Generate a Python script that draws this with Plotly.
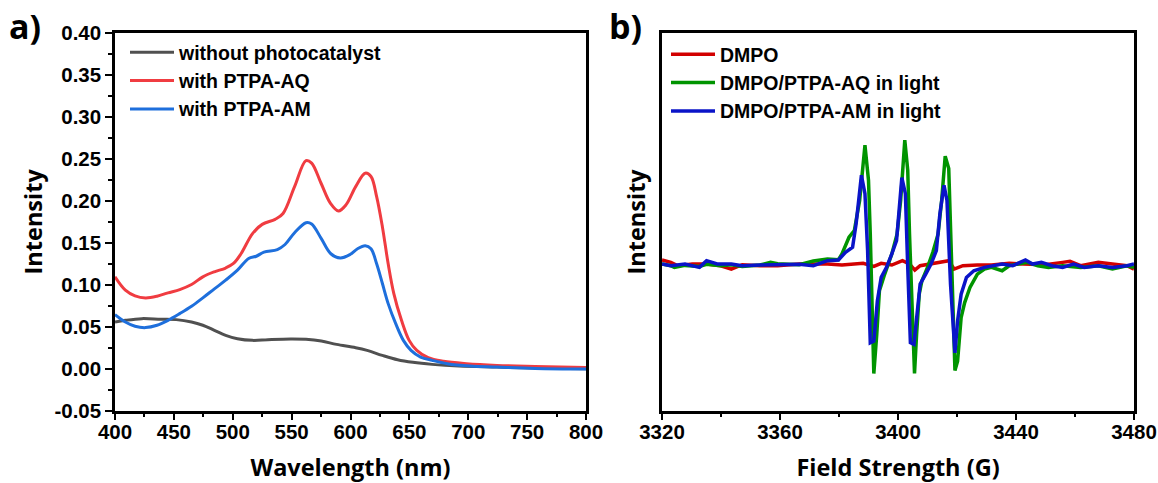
import plotly.graph_objects as go

# ---------------- Panel a) : UV-vis ----------------
wl_red = [400, 408.8, 417, 426, 435.7, 445, 455, 465, 474.6, 484.4, 494, 500.6, 507, 516.8, 525, 536,
          542.7, 552.5, 562.2, 567, 575, 583, 589.8, 596.3, 604.4, 612.5, 617.4, 622.2, 627.1, 632,
          636.8, 643.3, 649.8, 656.3, 666, 679, 698.5, 724.4, 756.9, 800]
int_red = [0.1095, 0.0936, 0.0868, 0.0844, 0.0864, 0.0904, 0.0943, 0.1003, 0.1095, 0.1155, 0.120, 0.1254,
           0.137, 0.161, 0.172, 0.178, 0.185, 0.217, 0.248, 0.245, 0.221, 0.197, 0.188, 0.1955, 0.217,
           0.233, 0.229, 0.205, 0.169, 0.125, 0.0896, 0.0577, 0.0338, 0.0219, 0.0131, 0.0088, 0.006,
           0.004, 0.0028, 0.0016]

wl_blue = [400, 408.8, 417, 426, 435.7, 445, 455, 465, 474.6, 484.4, 494, 504, 513.5, 520, 526.5, 537.9,
           544.4, 552.5, 562.2, 567, 575.2, 583.3, 591.4, 599.5, 606, 612.5, 617.4, 622.2, 627.1, 632,
           638.4, 644.9, 651.4, 659.5, 669.3, 682.2, 701.7, 724.4, 756.9, 800]
int_blue = [0.0645, 0.0557, 0.0506, 0.049, 0.0518, 0.0577, 0.0657, 0.0744, 0.0844, 0.0951, 0.1055, 0.1174,
            0.1314, 0.134, 0.139, 0.142, 0.148, 0.162, 0.174, 0.1725, 0.155, 0.137, 0.132, 0.136, 0.143,
            0.1465, 0.143, 0.125, 0.1015, 0.0776, 0.0537, 0.0338, 0.0219, 0.0139, 0.010, 0.006, 0.0032,
            0.002, 0.0004, -0.0004]

wl_gray = [400, 408.8, 422.7, 438.9, 452, 465, 474.6, 484.4, 494, 504, 516.8, 529.8, 549.2, 562.2, 575.2,
           588.2, 604.4, 614.1, 627, 640, 653, 669.3, 692, 724.4, 756.9, 800]
int_gray = [0.0557, 0.0577, 0.0597, 0.0589, 0.0585, 0.0557, 0.0518, 0.0458, 0.0398, 0.0358, 0.0338, 0.0346,
            0.0354, 0.035, 0.033, 0.029, 0.0251, 0.0219, 0.0159, 0.0107, 0.0076, 0.0052, 0.0032, 0.002,
            0.0008, 0.0]

ytick_vals = [-0.05, 0.0, 0.05, 0.10, 0.15, 0.20, 0.25, 0.30, 0.35, 0.40]
ytick_text = ["-0.05", "0.00", "0.05", "0.10", "0.15", "0.20", "0.25", "0.30", "0.35", "0.40"]
xtick_a = [400, 450, 500, 550, 600, 650, 700, 750, 800]

# ---------------- Panel b) : EPR ----------------
field_green = [3320, 3323.0, 3324.2, 3327.8, 3332.7, 3335.1, 3339.9, 3343.5, 3347.2, 3353.2, 3356.8, 3359.2,
               3366.5, 3371.3, 3376.1, 3379.8, 3381.0, 3383.4, 3385.2, 3387.0, 3388.8, 3390.0, 3390.6,
               3391.2, 3391.8, 3392.8, 3393.7, 3395.5, 3396.7, 3397.9, 3399.7, 3400.9, 3402.3, 3403.3,
               3403.9, 3404.8, 3405.6, 3406.3, 3407.2, 3408.1, 3410.0, 3411.8, 3413.6, 3414.8, 3416.0,
               3417.2, 3417.8, 3418.4, 3419.3, 3420.2, 3421.4, 3422.6, 3424.4, 3426.9, 3429.3, 3431.7,
               3435.3, 3437.7, 3441.4, 3443.8, 3447.4, 3451.0, 3455.8, 3461.9, 3467.9, 3472.7, 3477.6, 3480]
sig_green = [-1, -6, -11, -5, -8, -2, -6, -3, -8, -4, 4, 0, -3, 8, 14, 12, 29, 79, 99, 189, 354, 249, 89,
             -111, -328, -211, -81, -31, -1, 29, 89, 189, 369, 279, 89, -111, -328, -211, -91, -51, -11,
             34, 89, 189, 321, 284, 89, -111, -319, -291, -161, -116, -71, -31, -16, -11, -21, -6, -1, 4,
             -6, -11, -6, -11, -6, -16, -6, -11]

field_blue = [3320, 3323.0, 3327.8, 3332.7, 3335.1, 3338.7, 3343.5, 3347.2, 3353.2, 3359.2, 3366.5, 3371.3,
              3376.1, 3379.8, 3382.2, 3384.6, 3385.8, 3387.6, 3388.8, 3389.7, 3390.6, 3391.8, 3393.0,
              3394.3, 3396.1, 3397.9, 3399.5, 3401.3, 3402.5, 3403.3, 3404.2, 3405.4, 3406.3, 3407.5,
              3409.4, 3411.2, 3413.0, 3414.2, 3415.6, 3416.6, 3417.8, 3419.3, 3420.2, 3421.4, 3423.2,
              3425.7, 3429.3, 3431.7, 3435.3, 3438.9, 3443.2, 3445.6, 3448.6, 3452.2, 3455.8, 3459.5,
              3463.1, 3467.9, 3472.7, 3477.6, 3480]
sig_blue = [-1, -6, -1, -11, 9, -1, -1, -6, -4, -4, -2, -6, 9, 11, 34, 49, 119, 264, 209, 39, -236, -231,
            -111, -41, -11, 29, 69, 257, 209, -11, -236, -241, -171, -61, -31, -1, 39, 149, 234, 189, -61,
            -266, -171, -91, -41, -21, -11, -6, -1, -6, 11, -1, 4, -6, -11, -1, -11, -6, -11, -6, -1]

field_red = [3320, 3323.0, 3325.4, 3330.3, 3335.1, 3339.9, 3343.5, 3347.2, 3353.2, 3359.2, 3366.5, 3371.3,
             3376.1, 3381.0, 3388.2, 3391.8, 3394.3, 3397.9, 3401.5, 3403.9, 3405.7, 3407.5, 3411.2,
             3414.8, 3417.2, 3419.0, 3422.0, 3426.9, 3431.7, 3437.7, 3443.8, 3449.8, 3455.8, 3458.3,
             3461.9, 3467.9, 3472.7, 3477.6, 3480]
sig_red = [11, 4, -6, -1, -1, -6, -16, -3, -6, -6, -1, -1, -1, -4, 1, -8, 1, -4, 9, -1, -19, -6, -1, 4, 9,
           -16, -6, -4, -4, 1, -1, -3, 4, 7, -6, 4, -1, -6, -16]

xtick_b = [3320, 3360, 3400, 3440, 3480]

TICKFONT = dict(family="Liberation Sans, Arial, sans-serif", size=20.5, color="black", weight="bold")
TITLEFONT = dict(family="Open Sans, sans-serif", size=23.5, color="black", weight="bold")
LEGFONT = dict(family="Liberation Sans, Arial, sans-serif", size=19.5, color="black", weight="bold")

fig = go.Figure()

fig.add_trace(go.Scatter(x=wl_gray, y=int_gray, mode="lines", name="without photocatalyst",
                         line=dict(color="#505050", width=3, shape="spline"), xaxis="x", yaxis="y",
                         legend="legend"))
fig.add_trace(go.Scatter(x=wl_red, y=int_red, mode="lines", name="with PTPA-AQ",
                         line=dict(color="#f03c41", width=3, shape="spline"), xaxis="x", yaxis="y",
                         legend="legend"))
fig.add_trace(go.Scatter(x=wl_blue, y=int_blue, mode="lines", name="with PTPA-AM",
                         line=dict(color="#1e6fdc", width=3, shape="spline"), xaxis="x", yaxis="y",
                         legend="legend"))

fig.add_trace(go.Scatter(x=field_red, y=sig_red, mode="lines", name="DMPO",
                         line=dict(color="#d20000", width=3.5), xaxis="x2", yaxis="y2", legend="legend2"))
fig.add_trace(go.Scatter(x=field_green, y=sig_green, mode="lines", name="DMPO/PTPA-AQ in light",
                         line=dict(color="#009400", width=3.5), xaxis="x2", yaxis="y2", legend="legend2"))
fig.add_trace(go.Scatter(x=field_blue, y=sig_blue, mode="lines", name="DMPO/PTPA-AM in light",
                         line=dict(color="#0a14c8", width=3.5), xaxis="x2", yaxis="y2", legend="legend2"))

W, H = 1158, 483
ydom = [1 - 410.7 / H, 1 - 33 / H]

common_axis = dict(showline=True, linecolor="black", linewidth=2.5, mirror=True, showgrid=False,
                   zeroline=False, ticks="outside", ticklen=7, tickwidth=2, tickcolor="black",
                   tickfont=TICKFONT, automargin=False)
MINOR = dict(ticks="outside", ticklen=4, tickwidth=2, tickcolor="black")

fig.update_layout(
    width=W, height=H, margin=dict(l=0, r=0, t=0, b=0),
    paper_bgcolor="white", plot_bgcolor="white",
    xaxis=dict(domain=[115 / W, 586 / W], range=[400, 800], tickvals=xtick_a,
               minor=dict(dtick=25, **MINOR), ticklabelstandoff=-6,
               title=dict(text="Wavelength (nm)", font=TITLEFONT, standoff=22),
               anchor="y", **common_axis),
    yaxis=dict(domain=ydom, range=[-0.05, 0.40], tickvals=ytick_vals, ticktext=ytick_text,
               minor=dict(dtick=0.025, tick0=0, **MINOR), ticklabelstandoff=0,
               title=dict(text="Intensity", font=TITLEFONT, standoff=6),
               anchor="x", **common_axis),
    xaxis2=dict(domain=[662 / W, 1134 / W], range=[3320, 3480], tickvals=xtick_b,
                minor=dict(dtick=20, tick0=3320, **MINOR), ticklabelstandoff=-6,
                title=dict(text="Field Strength (G)", font=TITLEFONT, standoff=22),
                anchor="y2", **common_axis),
    yaxis2=dict(domain=ydom, range=[-439, 689], showline=True, linecolor="black", linewidth=2.5,
                mirror=True, showgrid=False, zeroline=False, ticks="", showticklabels=False,
                title=dict(text="Intensity", font=TITLEFONT, standoff=8), automargin=False,
                anchor="x2"),
    legend=dict(x=125 / W, y=1 - 33 / H, xanchor="left", yanchor="top", bgcolor="rgba(0,0,0,0)",
                font=LEGFONT, itemwidth=44, tracegroupgap=0),
    legend2=dict(x=666 / W, y=1 - 35 / H, xanchor="left", yanchor="top", bgcolor="rgba(0,0,0,0)",
                 font=LEGFONT, itemwidth=44, tracegroupgap=0),
    showlegend=True,
    annotations=[
        dict(text="<b>a)</b>", x=7 / W, y=1 - 1 / H, xref="paper", yref="paper", xanchor="left",
             yanchor="top", showarrow=False, font=dict(family="Open Sans, sans-serif", size=34, color="black")),
        dict(text="<b>b)</b>", x=607 / W, y=1 - 1 / H, xref="paper", yref="paper", xanchor="left",
             yanchor="top", showarrow=False, font=dict(family="Open Sans, sans-serif", size=34, color="black")),
    ],
)

fig.write_html("out.html")
